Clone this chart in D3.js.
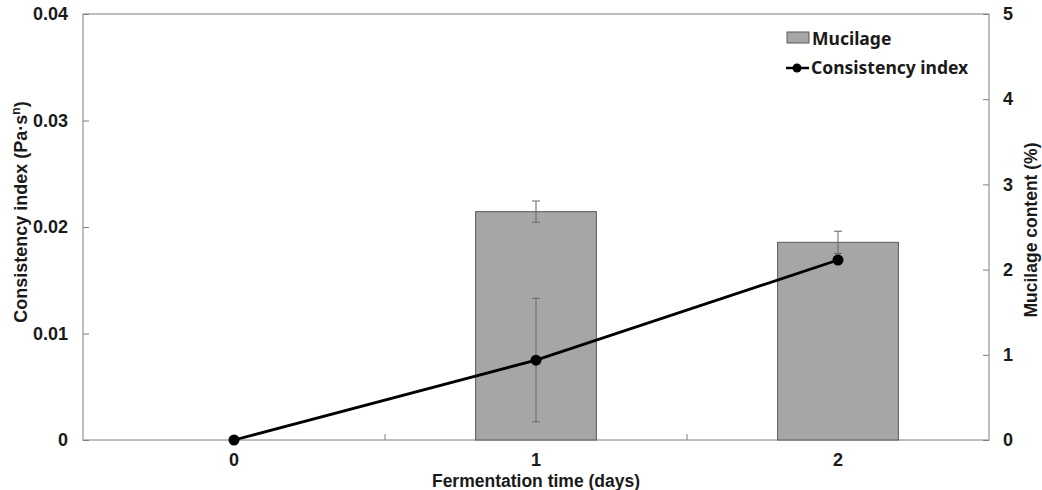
<!DOCTYPE html>
<html>
<head>
<meta charset="utf-8">
<script src="https://cdn.jsdelivr.net/npm/d3@7"></script>
<style>
  body { margin: 0; background: #fff; }
  text { font-family: "Liberation Sans", Arial, sans-serif; font-weight: bold; fill: #1a1a1a; }
  .legend text { font-family: "Noto Sans", "Open Sans", sans-serif; }
</style>
</head>
<body>
<svg id="chart" width="1042" height="490"></svg>
<script>
// data
var days = ["0", "1", "2"];
var mucilage = [null, 2.68, 2.32];
var mucilageErr = [null, 0.125, 0.13];
var consistency = [0, 0.0075, 0.0169];
var consistencyErr = [0, 0.0058, 0.0003];
var leftTicks = [0, 0.01, 0.02, 0.03, 0.04];
var rightTicks = [0, 1, 2, 3, 4, 5];

var svg = d3.select("#chart");
var m = { left: 83, right: 989, top: 14, bottom: 440 };

var x = d3.scaleBand().domain(days).range([m.left, m.right]);
var yL = d3.scaleLinear().domain([0, 0.04]).range([m.bottom, m.top]);
var yR = d3.scaleLinear().domain([0, 5]).range([m.bottom, m.top]);

var axisColor = "#7f7f7f";

// plot frame
svg.append("rect")
  .attr("x", m.left).attr("y", m.top)
  .attr("width", m.right - m.left).attr("height", m.bottom - m.top)
  .attr("fill", "none").attr("stroke", axisColor).attr("stroke-width", 1);

// bars (mucilage, right axis)
var barW = x.bandwidth() * 0.4;
var bars = days.map((d, i) => ({ d: d, v: mucilage[i], e: mucilageErr[i] })).filter(b => b.v != null);

svg.selectAll(".bar").data(bars).enter().append("rect")
  .attr("class", "bar")
  .attr("x", b => x(b.d) + (x.bandwidth() - barW) / 2)
  .attr("y", b => yR(b.v))
  .attr("width", barW)
  .attr("height", b => yR(0) - yR(b.v))
  .attr("fill", "#a6a6a6")
  .attr("stroke", "#5a5a5a")
  .attr("stroke-width", 1);

function errBar(g, cx, top, bot) {
  g.append("line").attr("x1", cx).attr("x2", cx).attr("y1", top).attr("y2", bot);
  g.append("line").attr("x1", cx - 4).attr("x2", cx + 4).attr("y1", top).attr("y2", top);
  g.append("line").attr("x1", cx - 4).attr("x2", cx + 4).attr("y1", bot).attr("y2", bot);
}

var eg = svg.append("g").attr("stroke", "#666").attr("stroke-width", 1);
bars.forEach(b => {
  var cx = x(b.d) + x.bandwidth() / 2;
  errBar(eg, cx, yR(b.v + b.e), yR(b.v - b.e));
});
days.forEach((d, i) => {
  if (consistencyErr[i] > 0) {
    var cx = x(d) + x.bandwidth() / 2;
    errBar(eg, cx, yL(consistency[i] + consistencyErr[i]), yL(consistency[i] - consistencyErr[i]));
  }
});

// consistency line (left axis)
var pts = days.map((d, i) => ({ d: d, v: consistency[i] }));
svg.append("path").datum(pts)
  .attr("fill", "none").attr("stroke", "#000").attr("stroke-width", 2.8)
  .attr("d", d3.line().x(p => x(p.d) + x.bandwidth() / 2).y(p => yL(p.v)));
svg.selectAll(".pt").data(pts).enter().append("circle")
  .attr("cx", p => x(p.d) + x.bandwidth() / 2)
  .attr("cy", p => yL(p.v))
  .attr("r", 5.5).attr("fill", "#000");

// axes
var gl = svg.append("g").attr("transform", "translate(" + m.left + ",0)")
  .call(d3.axisRight(yL).tickValues(leftTicks).tickSize(6).tickFormat(d => d === 0 ? "0" : d3.format(".2f")(d)));
gl.select(".domain").remove();
gl.selectAll("line").attr("stroke", axisColor);
gl.selectAll("text").attr("x", -15).attr("text-anchor", "end").style("font-size", "18px");

var gr = svg.append("g").attr("transform", "translate(" + m.right + ",0)")
  .call(d3.axisLeft(yR).tickValues(rightTicks).tickSize(6).tickFormat(d3.format("d")));
gr.select(".domain").remove();
gr.selectAll("line").attr("stroke", axisColor);
gr.selectAll("text").attr("x", 14).attr("text-anchor", "start").style("font-size", "18px");

// x axis: ticks at category boundaries, pointing up
var gx = svg.append("g").attr("transform", "translate(0," + m.bottom + ")");
gx.selectAll("line").data(days.slice(1)).enter().append("line")
  .attr("x1", d => x(d)).attr("x2", d => x(d))
  .attr("y1", 0).attr("y2", -6).attr("stroke", axisColor);
gx.selectAll("text").data(days).enter().append("text")
  .attr("x", d => x(d) + x.bandwidth() / 2).attr("y", 26)
  .attr("text-anchor", "middle").style("font-size", "18px").text(d => d);

// axis titles
svg.append("text").attr("x", (m.left + m.right) / 2).attr("y", 487)
  .attr("text-anchor", "middle").style("font-size", "17.5px").text("Fermentation time (days)");
var lt = svg.append("text").attr("transform", "translate(27,212) rotate(-90)")
  .attr("text-anchor", "middle").style("font-size", "18px");
lt.append("tspan").text("Consistency index (Pa·s");
lt.append("tspan").attr("dy", -7).style("font-size", "12px").text("n");
lt.append("tspan").attr("dy", 7).text(")");
svg.append("text").attr("transform", "translate(1037,230) rotate(-90)")
  .attr("text-anchor", "middle").style("font-size", "17.5px")
  .text("Mucilage content (%)");

// legend
var lg = svg.append("g").attr("class", "legend");
lg.append("rect").attr("x", 787).attr("y", 32).attr("width", 22).attr("height", 11)
  .attr("fill", "#a6a6a6").attr("stroke", "#5a5a5a");
lg.append("text").attr("x", 812).attr("y", 45).style("font-size", "17.5px").text("Mucilage");
lg.append("line").attr("x1", 786).attr("x2", 809).attr("y1", 68).attr("y2", 68)
  .attr("stroke", "#000").attr("stroke-width", 2.5);
lg.append("circle").attr("cx", 797).attr("cy", 68).attr("r", 4.5).attr("fill", "#000");
lg.append("text").attr("x", 811).attr("y", 74).style("font-size", "17.5px").text("Consistency index");
</script>
</body>
</html>
